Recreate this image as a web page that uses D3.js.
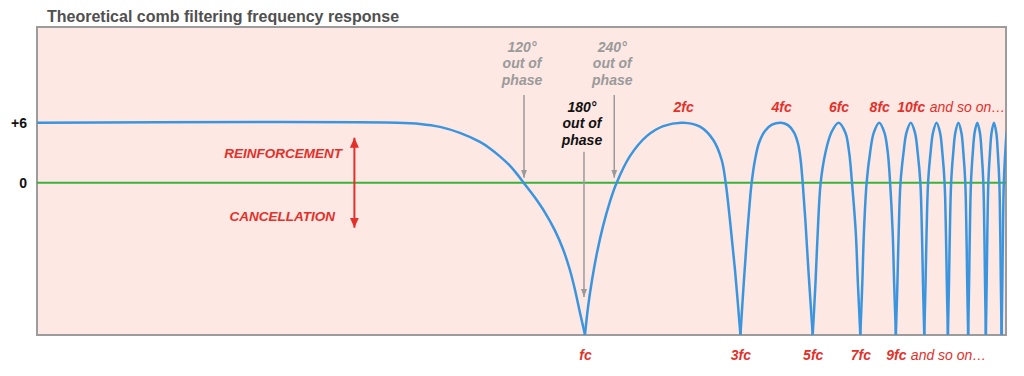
<!DOCTYPE html>
<html>
<head>
<meta charset="utf-8">
<script src="https://cdn.jsdelivr.net/npm/d3@7"></script>
<style>
  body { margin: 0; background: #fff; }
  svg text { font-family: "Liberation Sans", Arial, sans-serif; }
</style>
</head>
<body>
<svg id="chart" width="1024" height="376"></svg>
<script>
// frequency as multiples of fc, level in dB, one line per lobe
var curveF = [
  0.0208, 0.265, 0.312, 0.359, 0.413, 0.476, 0.511, 0.548, 0.589, 0.618, 0.648, 0.702, 0.754, 0.809, 0.856, 0.899, 0.932, 0.965, 1,
  1.021, 1.051, 1.089, 1.136, 1.193, 1.251, 1.374, 1.547, 1.739, 2, 2.254, 2.476, 2.628, 2.703, 2.786, 2.887, 3,
  3.07, 3.136, 3.203, 3.248, 3.325, 3.42, 3.568, 3.749, 4, 4.198, 4.38, 4.506, 4.586, 4.658, 4.751, 4.853, 5,
  5.1, 5.18, 5.29, 5.47, 5.7, 6, 6.3, 6.47, 6.6, 6.78, 6.88, 7,
  7.1, 7.18, 7.32, 7.5, 7.7, 8, 8.3, 8.5, 8.64, 8.8, 8.89, 9,
  9.1, 9.18, 9.3, 9.5, 9.7, 10, 10.3, 10.5, 10.7, 10.82, 10.9, 11,
  11.1, 11.18, 11.3, 11.5, 11.7, 12, 12.3, 12.5, 12.7, 12.82, 12.9, 13,
  13.1, 13.18, 13.3, 13.5, 13.7, 14, 14.3, 14.5, 14.7, 14.82, 14.9, 15,
  15.1, 15.18, 15.3, 15.5, 15.7, 16, 16.3, 16.5, 16.7, 16.82, 16.9, 17,
  17.1, 17.18, 17.3, 17.5, 17.7, 18, 18.3, 18.5, 18.7, 18.82, 18.9, 19,
  19.1, 19.18, 19.3, 19.5, 19.7, 20]
var curveDb = [
  6, 6, 5.88, 5.58, 4.98, 4.08, 3.43, 2.63, 1.68, 0.88, 0, -1.49, -2.99, -4.79, -6.63, -8.73, -10.73, -12.98, -15.2,
  -12.53, -9.73, -6.98, -4.34, -1.89, 0, 2.66, 4.66, 5.66, 6, 5.6, 4.27, 2.27, 0, -3.73, -8.73, -15.2,
  -10.13, -5.78, -2.03, 0, 2.27, 3.97, 5.17, 5.8, 6, 5.76, 5.04, 3.92, 2.42, 0, -3.93, -8.87, -15.2,
  -10, -5, 0, 3, 5, 6, 5, 3, 0, -5, -10, -15.2,
  -10, -5, 0, 3, 5, 6, 5, 3, 0, -5, -10, -15.2,
  -10, -5, 0, 3, 5, 6, 5, 3, 0, -5, -10, -15.2,
  -10, -5, 0, 3, 5, 6, 5, 3, 0, -5, -10, -15.2,
  -10, -5, 0, 3, 5, 6, 5, 3, 0, -5, -10, -15.2,
  -10, -5, 0, 3, 5, 6, 5, 3, 0, -5, -10, -15.2,
  -10, -5, 0, 3, 5, 6, 5, 3, 0, -5, -10, -15.2,
  -10, -5, 0, 3, 5, 6]
var floorDb = -15.2

var yTicks = [0, 6]
var nullTicks = [1, 3, 5, 7, 9]
var peakTicks = [2, 4, 6, 8, 10]
var phaseF = [0.65, 1.23]
var phaseText = ["120°", "240°"]
var pivotF = 0.196

var plotL = 37, plotR = 1006, plotT = 27, plotB = 335
var red = "#e2302a"

var svg = d3.select("#chart")

var x = d3.scaleLog().domain([0.0208, 19.6]).range([plotL, plotR])
var y = d3.scaleLinear().domain([-15.23, 15.57]).range([plotB, plotT])

// title
svg.append("text")
    .attr("x", 47).attr("y", 21.5)
    .attr("font-size", 16).attr("font-weight", "bold")
    .attr("fill", "#505050")
    .text("Theoretical comb filtering frequency response")

// plot area
svg.append("rect")
    .attr("x", plotL).attr("y", plotT)
    .attr("width", plotR - plotL).attr("height", plotB - plotT)
    .attr("fill", "#fde8e4")
    .attr("stroke", "#9c9c9c").attr("stroke-width", 2)

svg.append("clipPath").attr("id", "clip")
    .append("rect")
    .attr("x", plotL).attr("y", plotT - 2)
    .attr("width", plotR - plotL).attr("height", plotB - plotT + 2)

var defs = svg.append("defs")
function marker(id, color, w, h) {
    defs.append("marker").attr("id", id)
        .attr("viewBox", "0 0 " + w + " " + h)
        .attr("refX", w).attr("refY", h / 2)
        .attr("markerUnits", "userSpaceOnUse")
        .attr("markerWidth", w).attr("markerHeight", h)
        .attr("orient", "auto-start-reverse")
        .append("path")
        .attr("d", "M0,0L" + w + "," + (h / 2) + "L0," + h + "z")
        .attr("fill", color)
}
marker("redHead", red, 10, 9)
marker("grayHead", "#9a9a9a", 8, 6)

// zero line
svg.append("line")
    .attr("x1", plotL).attr("x2", plotR)
    .attr("y1", y(0)).attr("y2", y(0))
    .attr("stroke", "#3bb33a").attr("stroke-width", 2)

// response curve, one path per lobe so the nulls stay sharp
var pts = curveF.map(function(f, i) { return { f: f, db: curveDb[i] } })
var lobes = [], cur = []
pts.forEach(function(p) {
    cur.push(p)
    if (p.db <= floorDb && cur.length > 1) {
        lobes.push(cur)
        cur = [p]
    }
})
if (cur.length > 1) lobes.push(cur)

var line = d3.line()
    .x(function(d) { return x(d.f) })
    .y(function(d) { return y(d.db) })
    .curve(d3.curveCatmullRom.alpha(0.5))

svg.append("g").attr("clip-path", "url(#clip)")
    .selectAll("path").data(lobes).enter().append("path")
    .attr("d", line)
    .attr("fill", "none")
    .attr("stroke", "#3a95de").attr("stroke-width", 2.5)
    .attr("stroke-linejoin", "round")

// y axis labels
var yAxis = svg.append("g")
    .attr("transform", "translate(" + plotL + ",0)")
    .call(d3.axisLeft(y).tickValues(yTicks).tickSize(0).tickPadding(10)
        .tickFormat(function(d) { return d > 0 ? "+" + d : d }))
yAxis.select(".domain").remove()
yAxis.selectAll("text")
    .attr("font-family", "Liberation Sans, Arial, sans-serif")
    .attr("font-size", 14).attr("font-weight", "bold").attr("fill", "#111")

// odd multiples under the plot
var xAxis = svg.append("g")
    .attr("transform", "translate(0," + plotB + ")")
    .call(d3.axisBottom(x).tickValues(nullTicks).tickSize(0).tickPadding(15)
        .tickFormat(function(d) { return d === 1 ? "fc" : d + "fc" }))
xAxis.select(".domain").remove()
xAxis.selectAll("text")
    .attr("font-family", "Liberation Sans, Arial, sans-serif")
    .attr("font-size", 14).attr("font-weight", "bold")
    .attr("font-style", "italic").attr("fill", red)

svg.append("text")
    .attr("x", x(9) + 15).attr("y", 360)
    .attr("font-size", 14).attr("font-style", "italic").attr("fill", red)
    .text("and so on…")

// even multiples at the peaks
var topAxis = svg.append("g")
    .attr("transform", "translate(0,111.7)")
    .call(d3.axisTop(x).tickValues(peakTicks).tickSize(0).tickPadding(0)
        .tickFormat(function(d) { return d + "fc" }))
topAxis.select(".domain").remove()
topAxis.selectAll("text")
    .attr("font-family", "Liberation Sans, Arial, sans-serif")
    .attr("font-size", 14).attr("font-weight", "bold")
    .attr("font-style", "italic").attr("fill", red)

svg.append("text")
    .attr("x", x(10) + 19).attr("y", 111.7)
    .attr("font-size", 14).attr("font-style", "italic").attr("fill", red)
    .text("and so on…")

// reinforcement / cancellation arrow
var px = x(pivotF)
svg.append("line")
    .attr("x1", px).attr("x2", px)
    .attr("y1", y(4.5)).attr("y2", y(-4.5))
    .attr("stroke", red).attr("stroke-width", 2)
    .attr("marker-start", "url(#redHead)")
    .attr("marker-end", "url(#redHead)")

svg.append("text")
    .attr("x", px - 12.5).attr("y", y(0) - 24.4)
    .attr("text-anchor", "end")
    .attr("font-size", 13.5).attr("font-weight", "bold")
    .attr("font-style", "italic").attr("fill", red)
    .text("REINFORCEMENT")
svg.append("text")
    .attr("x", px - 19.5).attr("y", y(0) + 38)
    .attr("text-anchor", "end")
    .attr("font-size", 13.5).attr("font-weight", "bold")
    .attr("font-style", "italic").attr("fill", red)
    .text("CANCELLATION")

// phase notes
function note(cx, y0, lines, color) {
    var t = svg.append("text")
        .attr("text-anchor", "middle")
        .attr("font-size", 14).attr("font-weight", "bold")
        .attr("font-style", "italic").attr("fill", color)
    lines.forEach(function(s, i) {
        t.append("tspan").attr("x", cx).attr("y", y0 + i * 16.5).text(s)
    })
}

phaseF.forEach(function(f, i) {
    var cx = x(f)
    note(cx - 2, 51.7, [phaseText[i], "out of", "phase"], "#9a9a9a")
    svg.append("line")
        .attr("x1", cx).attr("x2", cx)
        .attr("y1", 95).attr("y2", y(0) - 5)
        .attr("stroke", "#9a9a9a").attr("stroke-width", 1.5)
        .attr("marker-end", "url(#grayHead)")
})

note(x(1) - 3, 111.7, ["180°", "out of", "phase"], "#111")
svg.append("line")
    .attr("x1", x(1) - 1).attr("x2", x(1) - 1)
    .attr("y1", 151.7).attr("y2", 297)
    .attr("stroke", "#9a9a9a").attr("stroke-width", 1.5)
    .attr("marker-end", "url(#grayHead)")
</script>
</body>
</html>
